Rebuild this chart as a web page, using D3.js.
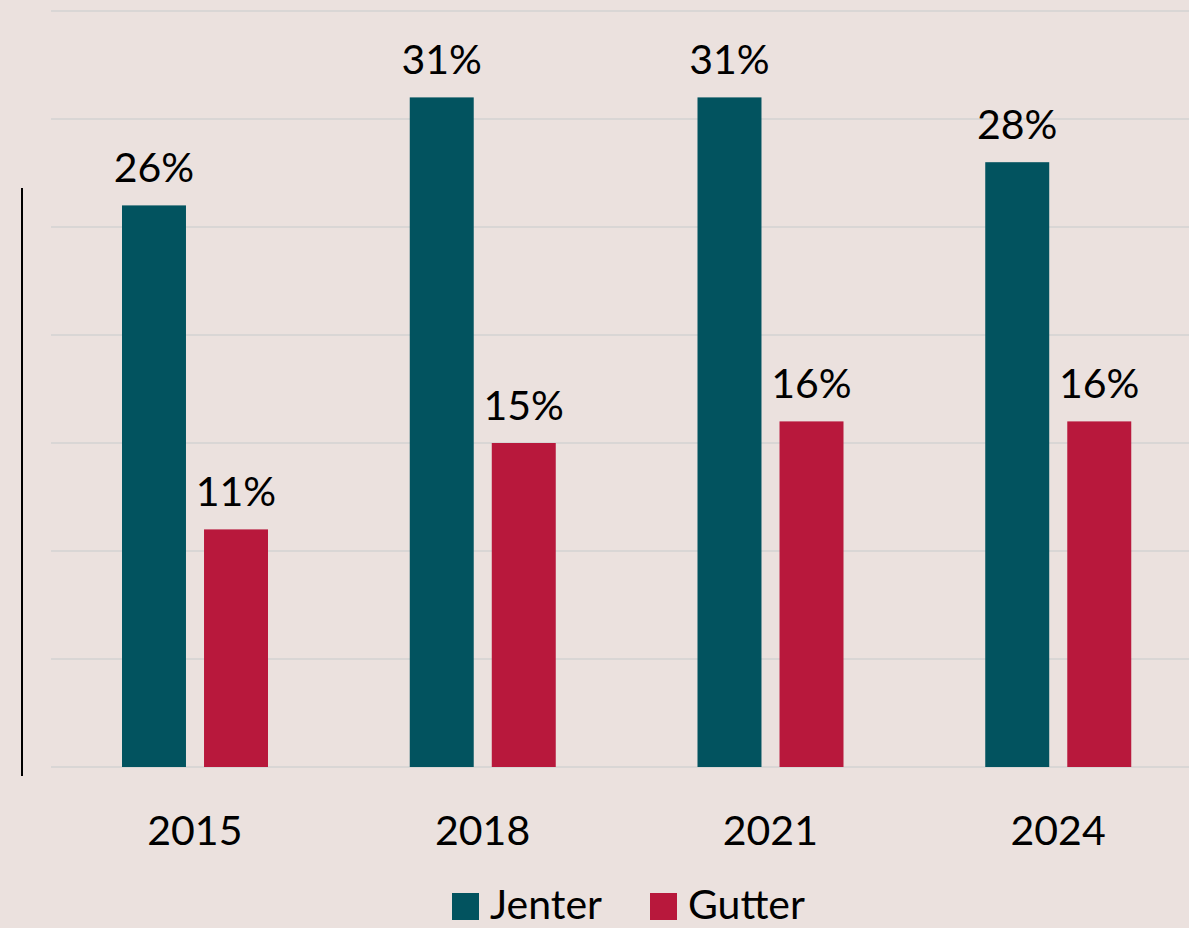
<!DOCTYPE html>
<html>
<head>
<meta charset="utf-8">
<script src="https://cdn.jsdelivr.net/npm/d3@7"></script>
<style>
  html, body { margin: 0; padding: 0; background: #ebe1de; }
  svg { display: block; font-family: Lato, "Open Sans", sans-serif; }
</style>
</head>
<body>
<div id="chart"></div>
<script>
const years = ['2015', '2018', '2021', '2024']
const seriesNames = ['Jenter', 'Gutter']
const jenter = [26, 31, 31, 28]
const gutter = [11, 15, 16, 16]
const yTicks = [0, 5, 10, 15, 20, 25, 30, 35]
const colors = ['#02535f', '#b8183c']

const width = 1189, height = 928
const fs = 41
const svg = d3.select('#chart').append('svg').attr('width', width).attr('height', height)
svg.append('rect').attr('width', width).attr('height', height).attr('fill', '#ebe1de')

const x0 = d3.scaleBand().domain(years).range([51, 1202]).paddingInner(0).paddingOuter(0)
const x1 = d3.scaleBand().domain(seriesNames).range([71, 217]).paddingInner(0.22).paddingOuter(0)
const y = d3.scaleLinear().domain([0, 35]).range([767, 11])

// grid
svg.append('g').selectAll('line').data(yTicks).join('line')
  .attr('x1', 51).attr('x2', width)
  .attr('y1', d => y(d)).attr('y2', d => y(d))
  .attr('stroke', '#d9d6d5').attr('stroke-width', 2)

// vertical line at left
svg.append('line').attr('x1', 22).attr('x2', 22).attr('y1', 188).attr('y2', 776)
  .attr('stroke', '#000').attr('stroke-width', 2)

const rows = years.map((yr, i) => ({ year: yr, values: [jenter[i], gutter[i]] }))

const groups = svg.append('g').selectAll('g').data(rows).join('g')
  .attr('transform', d => `translate(${x0(d.year)},0)`)

groups.selectAll('rect').data(d => d.values.map((v, j) => ({ key: seriesNames[j], v, j }))).join('rect')
  .attr('x', d => x1(d.key))
  .attr('width', x1.bandwidth())
  .attr('y', d => y(d.v))
  .attr('height', d => y(0) - y(d.v))
  .attr('fill', d => colors[d.j])

groups.selectAll('text.val').data(d => d.values.map((v, j) => ({ key: seriesNames[j], v, j }))).join('text')
  .attr('class', 'val')
  .attr('x', d => x1(d.key) + x1.bandwidth() / 2)
  .attr('y', d => y(d.v) - 23)
  .attr('text-anchor', 'middle')
  .attr('font-size', fs)
  .attr('fill', '#000')
  .text(d => d.v + '%')

// x axis labels
svg.append('g').selectAll('text').data(years).join('text')
  .attr('x', d => x0(d) + x0.bandwidth() / 2)
  .attr('y', 845)
  .attr('text-anchor', 'middle')
  .attr('font-size', fs)
  .attr('fill', '#000')
  .text(d => d)

// legend (nudged up a little so the text stays inside the frame)
const legend = svg.append('g')
const legendItems = [{ name: 'Jenter', x: 452 }, { name: 'Gutter', x: 650 }]
legendItems.forEach((it, i) => {
  legend.append('rect').attr('x', it.x).attr('y', 893).attr('width', 27).attr('height', 27).attr('fill', colors[i])
  legend.append('text').attr('x', it.x + 38).attr('y', 919).attr('font-size', fs).attr('fill', '#000').text(it.name)
})
</script>
</body>
</html>
